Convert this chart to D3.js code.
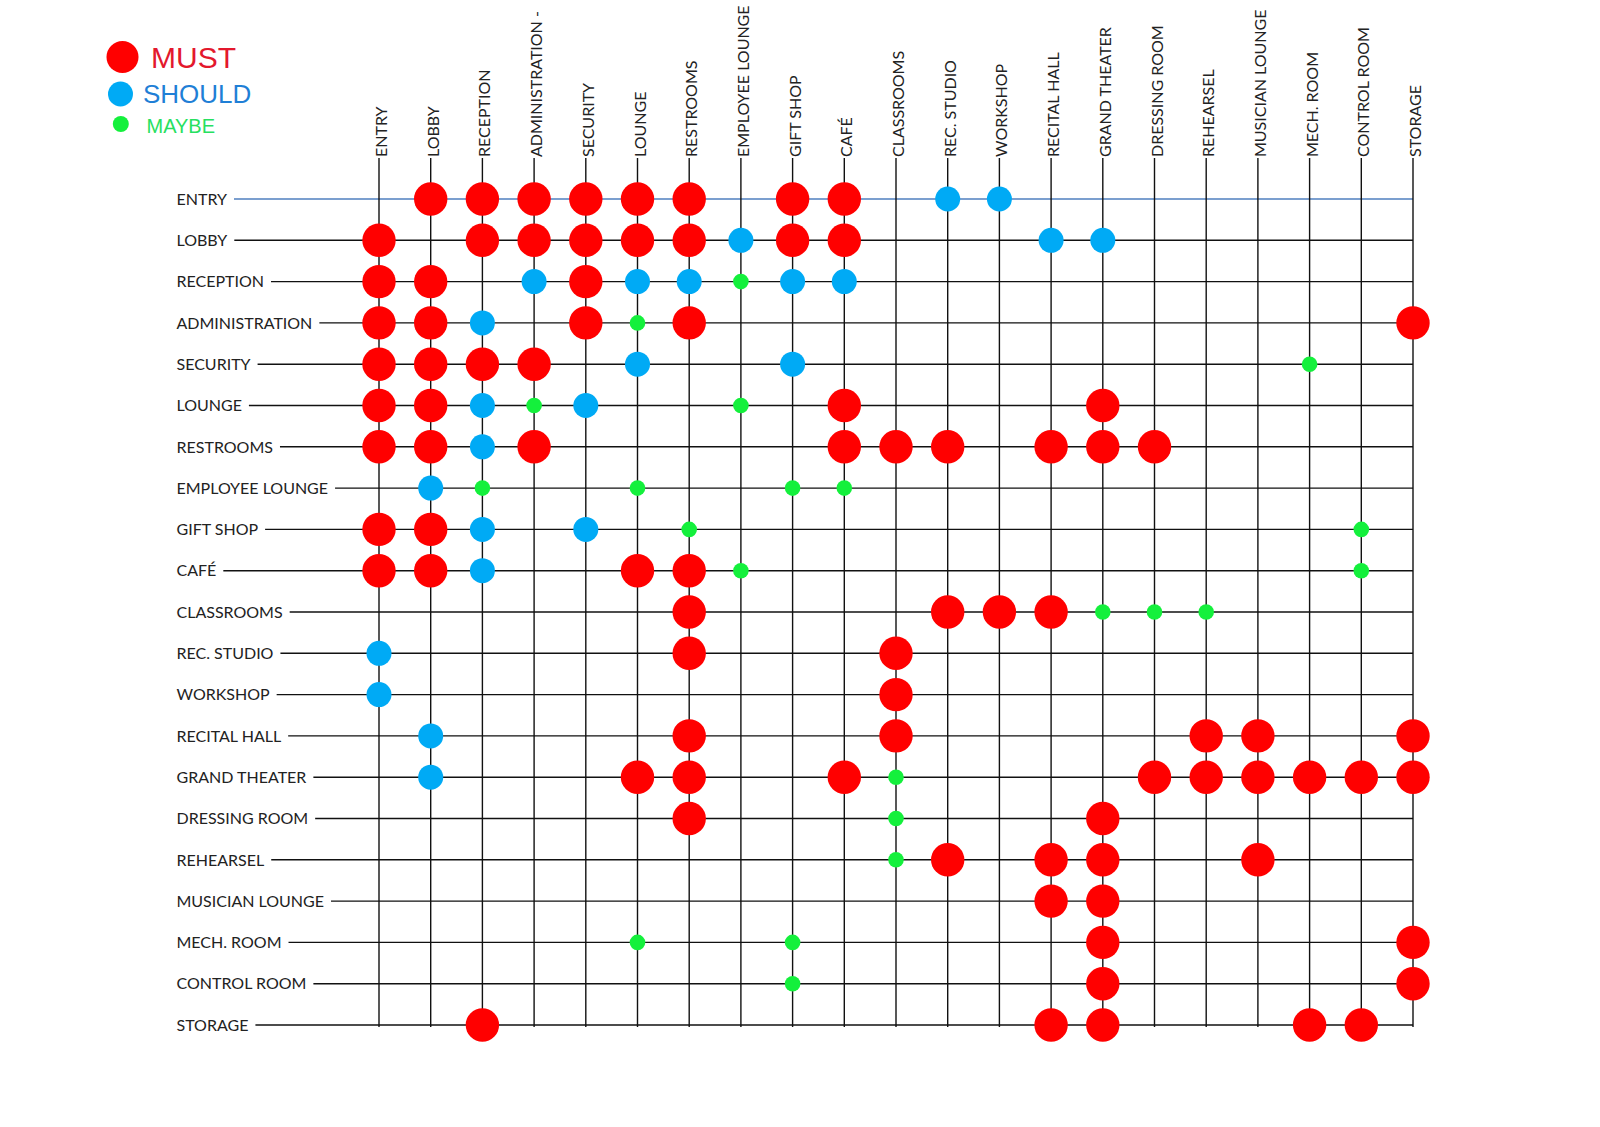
<!DOCTYPE html>
<html>
<head>
<meta charset="utf-8">
<script src="https://cdn.jsdelivr.net/npm/d3@7"></script>
<style>
  body { margin: 0; background: #fff; }
  svg { display: block; }
</style>
</head>
<body>
<div id="chart"></div>
<script>
// Rooms In Matrix Order (Rows & Columns)
const rooms = ["ENTRY", "LOBBY", "RECEPTION", "ADMINISTRATION", "SECURITY", "LOUNGE", "RESTROOMS",
  "EMPLOYEE LOUNGE", "GIFT SHOP", "CAFÉ", "CLASSROOMS", "REC. STUDIO", "WORKSHOP", "RECITAL HALL",
  "GRAND THEATER", "DRESSING ROOM", "REHEARSEL", "MUSICIAN LOUNGE", "MECH. ROOM", "CONTROL ROOM", "STORAGE"];

// Column Heading Text As Printed
const columnLabels = ["ENTRY", "LOBBY", "RECEPTION", "ADMINISTRATION -", "SECURITY", "LOUNGE", "RESTROOMS",
  "EMPLOYEE LOUNGE", "GIFT SHOP", "CAFÉ", "CLASSROOMS", "REC. STUDIO", "WORKSHOP", "RECITAL HALL",
  "GRAND THEATER", "DRESSING ROOM", "REHEARSEL", "MUSICIAN LOUNGE", "MECH. ROOM", "CONTROL ROOM", "STORAGE"];

// Adjacency Levels
const levels = ["MUST", "SHOULD", "MAYBE"];
const levelCodes = ["M", "S", "Y"];

// One String Per Row, One Character Per Column (M = Must, S = Should, Y = Maybe, . = None)
const matrix = [
  ".MMMMMM.MM.SS........",
  "M.MMMMMSMM...SS......",
  "MM.SMSSYSS...........",
  "MMS.MYM.............M",
  "MMMM.S..S.........Y..",
  "MMSYS..Y.M....M......",
  "MMSM.....MMM.MMM.....",
  ".SY..Y..YY...........",
  "MMS.S.Y............Y.",
  "MMS..MMY...........Y.",
  "......M....MMMYYY....",
  "S.....M...M..........",
  "S.........M..........",
  ".S....M...M.....MM..M",
  ".S...MM..MY....MMMMMM",
  "......M...Y...M......",
  "..........YM.MM..M...",
  ".............MM......",
  ".....Y..Y.....M.....M",
  "........Y.....M.....M",
  "..M..........MM...MM."
];

// Dimensions For SVG Element
let w = 1600, h = 1127;
let svg = d3.select("#chart").append("svg").attr("width", w).attr("height", h);

// Marker Style Per Level
let dotStyle = {
  M: { r: 16.7, fill: "#ff0000" },
  S: { r: 12.5, fill: "#00aaf5" },
  Y: { r: 7.8, fill: "#14f03c" }
};

// Scales
let x = d3.scalePoint().domain(rooms).range([379, 1413]);
let y = d3.scalePoint().domain(rooms).range([199, 1025]);
let labelFont = "Lato, 'Open Sans', sans-serif";

// Vertical Grid Lines
svg.append("g").selectAll("line").data(rooms).enter().append("line")
  .attr("x1", (d) => x(d)).attr("x2", (d) => x(d))
  .attr("y1", 158).attr("y2", y(rooms[rooms.length - 1]) + 2)
  .attr("stroke", "#111").attr("stroke-width", 1.4);

// Column Headings
svg.append("g").selectAll("text").data(rooms).enter().append("text")
  .attr("transform", (d) => "translate(" + (x(d) + 8) + ",157) rotate(-90)")
  .attr("font-family", labelFont).attr("font-size", 16).attr("fill", "#222")
  .text((d, i) => columnLabels[i]);

// Row Headings
let rowLabels = svg.append("g").selectAll("text").data(rooms).enter().append("text")
  .attr("x", 176.5).attr("y", (d) => y(d)).attr("dy", "0.36em")
  .attr("font-family", labelFont).attr("font-size", 16).attr("fill", "#222")
  .text((d) => d);

// Horizontal Grid Lines Start After Each Heading
let rowEnds = [];
rowLabels.each(function () { rowEnds.push(176.5 + this.getComputedTextLength() + 7); });
svg.insert("g", "g").selectAll("line").data(rooms).enter().append("line")
  .attr("x1", (d, i) => rowEnds[i]).attr("x2", x(rooms[rooms.length - 1]))
  .attr("y1", (d) => y(d)).attr("y2", (d) => y(d))
  .attr("stroke", (d, i) => i == 0 ? "#4f7fbf" : "#111")
  .attr("stroke-width", (d, i) => i == 0 ? 1.3 : 1.4);

// Flatten Matrix Into Cells
let cells = [];
matrix.forEach((row, r) => {
  row.split("").forEach((c, k) => {
    if (c != ".") cells.push({ row: rooms[r], col: rooms[k], level: c });
  });
});

// Drawing Dots
svg.append("g").selectAll("circle").data(cells).enter().append("circle")
  .attr("cx", (d) => x(d.col)).attr("cy", (d) => y(d.row))
  .attr("r", (d) => dotStyle[d.level].r)
  .attr("fill", (d) => dotStyle[d.level].fill)
  .append("title").text((d) => d.row + " / " + d.col + ": " + levels[levelCodes.indexOf(d.level)]);

// Legend
let legendItems = [
  { code: "M", cx: 122.5, cy: 57, tx: 151, ty: 67.5, size: 30, color: "#e3182d" },
  { code: "S", cx: 120.5, cy: 94, tx: 143, ty: 103, size: 26, color: "#1f7fd6" },
  { code: "Y", cx: 120.8, cy: 124, tx: 146.5, ty: 132.5, size: 20, color: "#27e060" }
];
let legend = svg.append("g").selectAll("g").data(legendItems).enter().append("g");
legend.append("circle")
  .attr("cx", (d) => d.cx).attr("cy", (d) => d.cy)
  .attr("r", (d) => d.code == "M" ? 16 : d.code == "S" ? 12.5 : 8)
  .attr("fill", (d) => dotStyle[d.code].fill);
legend.append("text")
  .attr("x", (d) => d.tx).attr("y", (d) => d.ty)
  .attr("font-family", "'Liberation Sans', Arial, sans-serif")
  .attr("font-size", (d) => d.size).attr("fill", (d) => d.color)
  .text((d) => levels[levelCodes.indexOf(d.level)] || levels[levelCodes.indexOf(d.code)]);
</script>
</body>
</html>
